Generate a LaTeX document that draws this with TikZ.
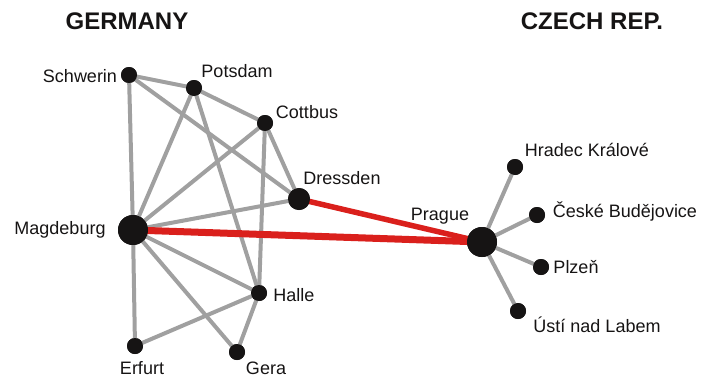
\documentclass[tikz,border=0pt]{standalone}
\usepackage{fontspec}
\setmainfont{Liberation Sans}
\definecolor{edgegray}{RGB}{160,160,160}
\definecolor{linkred}{RGB}{218,32,28}
\definecolor{dotblack}{RGB}{22,20,20}
\begin{document}
\begin{tikzpicture}[x=1pt,y=-1pt,
  city/.style={circle,fill=dotblack,inner sep=0pt,minimum size=16pt},
  bigcity/.style={circle,fill=dotblack,inner sep=0pt,minimum size=30pt},
  midcity/.style={circle,fill=dotblack,inner sep=0pt,minimum size=22pt},
  lbl/.style={font=\fontsize{18}{20}\selectfont,text=dotblack,inner sep=0pt},
  hdr/.style={font=\fontsize{24}{26}\selectfont\bfseries,text=dotblack,inner sep=0pt},
  link/.style={draw=edgegray,line width=4pt},
  redlink/.style={draw=linkred,line width=7pt}]
\useasboundingbox (0,0) rectangle (703,378);
% nodes
\node[city] (sch) at (129,75) {};
\node[city] (pot) at (194,88) {};
\node[city] (cot) at (265,123) {};
\node[midcity] (dre) at (299,199) {};
\node[bigcity] (mag) at (133,230) {};
\node[city] (hal) at (259,293) {};
\node[city] (erf) at (135,346) {};
\node[city] (ger) at (237,352) {};
\node[bigcity] (pra) at (482,242) {};
\node[city] (hra) at (515,167) {};
\node[city] (ces) at (537,215) {};
\node[city] (plz) at (541,267) {};
\node[city] (ust) at (518,311) {};
% edges
\draw[link] (sch.center) -- (pot.center);
\draw[link] (sch.center) -- (mag.center);
\draw[link] (sch.center) -- (dre.center);
\draw[link] (pot.center) -- (cot.center);
\draw[link] (pot.center) -- (mag.center);
\draw[link] (pot.center) -- (hal.center);
\draw[link] (cot.center) -- (hal.center);
\draw[link] (cot.center) -- (mag.center);
\draw[link] (cot.center) -- (dre.center);
\draw[link] (mag.center) -- (dre.center);
\draw[link] (mag.center) -- (hal.center);
\draw[link] (mag.center) -- (ger.center);
\draw[link] (mag.center) -- (erf.center);
\draw[link] (erf.center) -- (hal.center);
\draw[link] (hal.center) -- (ger.center);
\draw[link] (pra.center) -- (hra.center);
\draw[link] (pra.center) -- (ces.center);
\draw[link] (pra.center) -- (plz.center);
\draw[link] (pra.center) -- (ust.center);
\draw[redlink] (mag.center) -- (pra.center);
\draw[redlink,line width=5.5pt] (dre.center) -- (pra.center);
% redraw dots on top
\foreach \n/\s in {sch/city,pot/city,cot/city,dre/midcity,mag/bigcity,hal/city,erf/city,ger/city,pra/bigcity,hra/city,ces/city,plz/city,ust/city}
  \node[\s] at (\n.center) {};
% labels
\node[lbl] (lsch) at (80,76) {Schwerin};
\node[lbl] (lpot) at (237,71) {Potsdam};
\node[lbl] (lcot) at (307,112) {Cottbus};
\node[lbl] (ldre) at (342,178) {Dressden};
\node[lbl] (lmag) at (60,230) {Magdeburg};
\node[lbl] (lhal) at (294,295) {Halle};
\node[lbl] (lerf) at (142,368) {Erfurt};
\node[lbl] (lger) at (266,368) {Gera};
\node[lbl] (lpra) at (440,216) {Prague};
\node[lbl] (lhra) at (587,150) {Hradec Králové};
\node[lbl] (lces) at (625,211) {České Budějovice};
\node[lbl] (lplz) at (576,267) {Plzeň};
\node[lbl] (lust) at (597,325) {Ústí nad Labem};
\node[hdr] (hger) at (127,21) {GERMANY};
\node[hdr] (hcz) at (592,21) {CZECH REP.};
\end{tikzpicture}
\end{document}
